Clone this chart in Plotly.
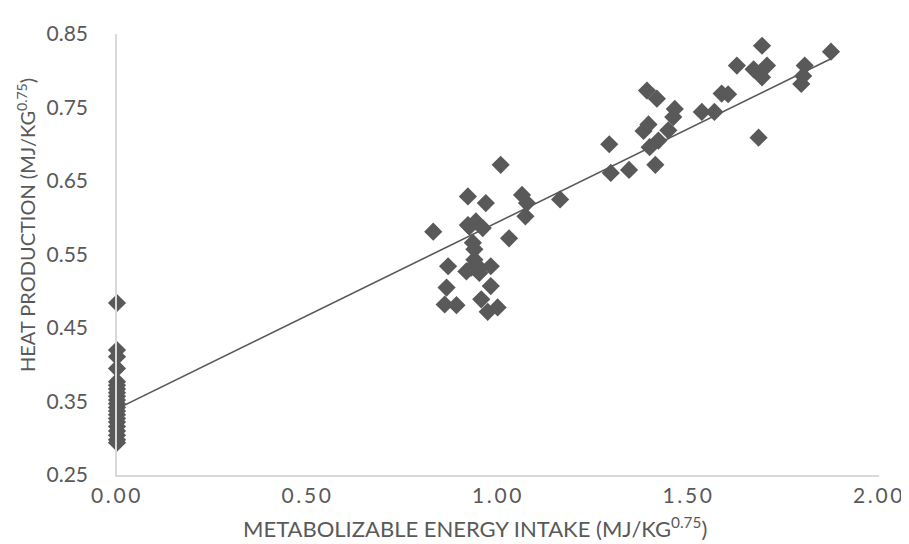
import numpy as np
import plotly.graph_objects as go

# x = 0 group (fasting)
zero_y = [0.484, 0.420, 0.411, 0.395, 0.377, 0.372, 0.367, 0.362, 0.357, 0.352,
          0.347, 0.342, 0.337, 0.332, 0.327, 0.322, 0.316, 0.310, 0.304, 0.298, 0.294]

mid_x = [0.830, 0.860, 0.865, 0.869, 0.891, 0.917, 0.921, 0.921, 0.925, 0.930, 0.934,
         0.938, 0.938, 0.942, 0.951, 0.951, 0.956, 0.960, 0.968, 0.973, 0.981, 0.981,
         0.999, 1.007, 1.029, 1.063, 1.072, 1.076, 1.163]
mid_y = [0.581, 0.482, 0.505, 0.534, 0.481, 0.527, 0.629, 0.590, 0.588, 0.532, 0.566,
         0.557, 0.543, 0.595, 0.532, 0.525, 0.489, 0.586, 0.620, 0.472, 0.534, 0.507,
         0.478, 0.672, 0.572, 0.631, 0.602, 0.620, 0.625]

high_x = [1.292, 1.296, 1.344, 1.382, 1.391, 1.395, 1.398, 1.413, 1.417, 1.421, 1.447,
          1.460, 1.464, 1.535, 1.568, 1.587, 1.604, 1.627, 1.671, 1.684, 1.693, 1.693,
          1.706, 1.796, 1.801, 1.805, 1.874]
high_y = [0.700, 0.661, 0.665, 0.718, 0.773, 0.727, 0.696, 0.672, 0.762, 0.705, 0.719,
          0.737, 0.748, 0.744, 0.744, 0.769, 0.768, 0.807, 0.802, 0.709, 0.834, 0.791,
          0.807, 0.782, 0.793, 0.807, 0.826]

x_ticks = [0.0, 0.5, 1.0, 1.5, 2.0]
x_tick_text = ["0\u2009.\u20090\u20090\u2009", "0\u2009.\u20095\u20090\u2009",
               "1\u2009.\u20090\u20090\u2009", "1\u2009.\u20095\u20090\u2009",
               "2\u2009.\u20090\u20090\u2009"]

x_all = np.array([0.0] * len(zero_y) + mid_x + high_x)
y_all = np.array(zero_y + mid_y + high_y)

slope, intercept = np.polyfit(x_all, y_all, 1)
lx = np.array([x_all.min(), x_all.max()])
ly = slope * lx + intercept

GREY = "#595959"
FONT = "Lato, 'Open Sans', sans-serif"

fig = go.Figure()
fig.add_trace(go.Scatter(
    x=x_all, y=y_all, mode="markers",
    marker=dict(symbol="diamond", size=14, color=GREY, line=dict(width=0)),
    cliponaxis=False, showlegend=False,
))
fig.add_trace(go.Scatter(
    x=lx, y=ly, mode="lines",
    line=dict(color=GREY, width=1.6),
    cliponaxis=False, showlegend=False,
))

fig.update_layout(
    width=909, height=544,
    margin=dict(l=109, r=27, t=24, b=77),
    paper_bgcolor="white", plot_bgcolor="white",
    font=dict(family=FONT, color=GREY, size=21),
    xaxis=dict(range=[0, 2], tickvals=x_ticks, ticktext=x_tick_text,
               showgrid=False, zeroline=False, showline=True,
               linecolor="#d9d9d9", linewidth=1.5, ticks="",
               ticklabelstandoff=1, tickfont=dict(size=21, color=GREY)),
    yaxis=dict(range=[0.25, 0.85], dtick=0.1, tick0=0.25, tickformat=".2f",
               showgrid=False, zeroline=False, showline=True,
               linecolor="#d9d9d9", linewidth=1.5, ticks="",
               ticklabelstandoff=23, tickfont=dict(size=21, color=GREY)),
    annotations=[
        dict(text="METABOLIZABLE ENERGY INTAKE (MJ/KG<sup>0.75</sup>)",
             xref="paper", yref="paper", x=0.47, y=0, yshift=-52,
             xanchor="center", yanchor="middle", showarrow=False,
             font=dict(size=22, color=GREY, family=FONT)),
        dict(text="HEAT PRODUCTION (MJ/KG<sup>0.75</sup>)",
             xref="paper", yref="paper", x=0, y=0.567, xshift=-91,
             xanchor="center", yanchor="middle", textangle=-90, showarrow=False,
             font=dict(size=20, color=GREY, family=FONT)),
    ],
)

fig.write_html("out.html")
